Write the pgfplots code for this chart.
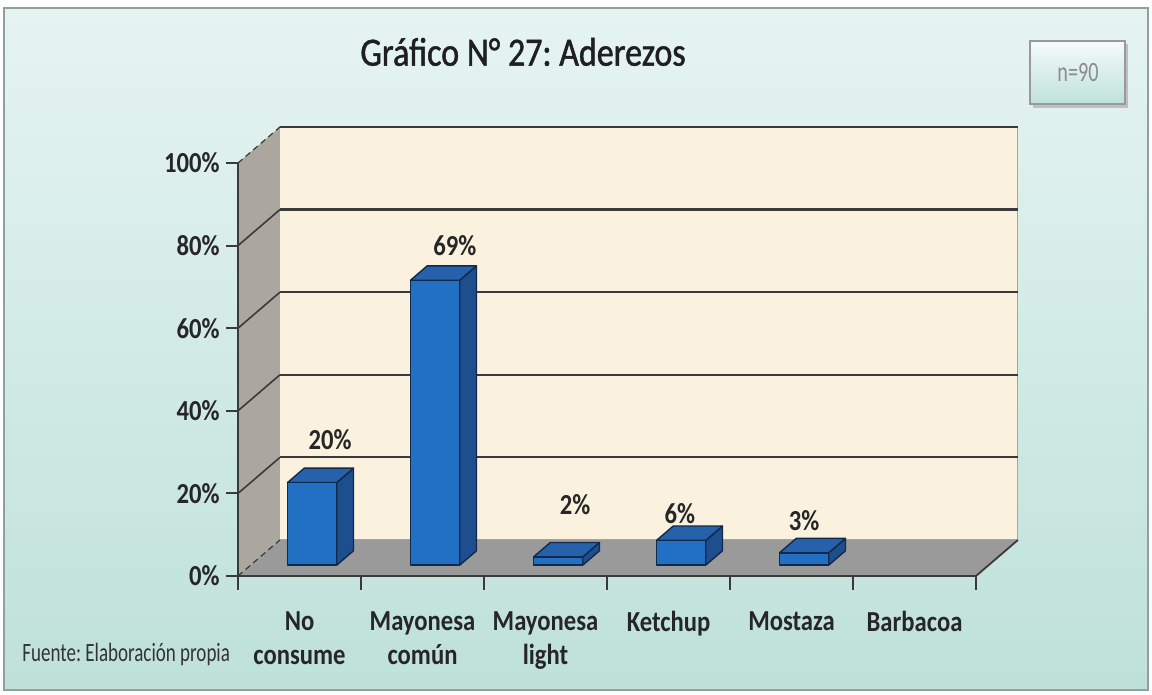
\documentclass[border=0pt]{standalone}
\usepackage{pgfplots}
\pgfplotsset{compat=1.18}
\usepackage{graphicx}
\usepackage{fontspec}
\setmainfont{Carlito}[FakeStretch=0.85]
\newfontfamily\titlefont{Carlito}[FakeStretch=0.85, FakeBold=1.2]
\newfontfamily\narrowfont{Carlito}[FakeStretch=0.72]
\frenchspacing
\definecolor{bgtop}{HTML}{E6F4F1}
\definecolor{bgbot}{HTML}{BEE1D9}
\definecolor{backwall}{HTML}{FAF2DF}
\definecolor{sidewall}{HTML}{ABA79F}
\definecolor{floorc}{HTML}{9A9A9A}
\definecolor{cfront}{HTML}{2270C4}
\definecolor{ctop}{HTML}{2662AC}
\definecolor{cside}{HTML}{1D4E8E}
\definecolor{baredge}{HTML}{12294A}
\definecolor{gridc}{HTML}{3A3A3A}
\definecolor{framec}{HTML}{8FA09D}
\tikzset{
  fsty/.style={fill=cfront, draw=baredge, line width=0.7pt, mark=none, line join=round},
  tsty/.style={fill=ctop, draw=baredge, line width=0.7pt, mark=none, line join=round},
  ssty/.style={fill=cside, draw=baredge, line width=0.7pt, mark=none, line join=round},
}
% 3D bar: #1 = category index, #2 = value (%)
\newcommand\tdbar[2]{%
  \pgfmathsetmacro\xa{#1+0.3+0.1023}%
  \pgfmathsetmacro\xb{#1+0.7+0.1023}%
  \pgfmathsetmacro\xc{#1+0.3+0.2387}%
  \pgfmathsetmacro\xd{#1+0.7+0.2387}%
  \pgfmathsetmacro\ya{2.616}%
  \pgfmathsetmacro\yb{#2+2.616}%
  \pgfmathsetmacro\yc{6.104}%
  \pgfmathsetmacro\yd{#2+6.104}%
  \edef\tmp{%
    \noexpand\addplot[ssty] coordinates {(\xb,\ya) (\xd,\yc) (\xd,\yd) (\xb,\yb)} --cycle;
    \noexpand\addplot[tsty] coordinates {(\xa,\yb) (\xb,\yb) (\xd,\yd) (\xc,\yd)} --cycle;
    \noexpand\addplot[fsty] coordinates {(\xa,\ya) (\xb,\ya) (\xb,\yb) (\xa,\yb)} --cycle;
  }\tmp}
\begin{document}
\frenchspacing
\begin{tikzpicture}
\begin{axis}[
  x=61.5pt, y=2.065pt,
  xmin=-1.935, xmax=7.431, ymin=-28.81, ymax=139.47,
  axis x line=middle, axis y line=middle,
  axis line style={draw=none},
  axis on top=true,
  hide obscured x ticks=false, hide obscured y ticks=false,
  xtick={0.5,1.5,2.5,3.5,4.5,5.5},
  xticklabels={{No\\consume},{Mayonesa\\común},{Mayonesa\\light},Ketchup,Mostaza,Barbacoa},
  ytick={0,20,40,60,80,100},
  yticklabels={0\%,20\%,40\%,60\%,80\%,100\%},
  major tick length=0pt, tick style={draw=none},
  xticklabel style={anchor=north, align=center, inner sep=0pt, yshift=-17.5pt,
     font=\fontsize{14.5}{17}\selectfont\bfseries, text=black!85},
  yticklabel style={anchor=east, inner sep=0pt, xshift=-9pt,
     font=\fontsize{14.5}{17}\selectfont\bfseries, text=black!85},
  /pgf/number format/assume math mode=true,
  clip=false, unbounded coords=jump,
]
% chart area background
\draw[framec, line width=1pt, top color=bgtop, bottom color=bgbot]
  (axis cs:-1.902,137.5) rectangle (axis cs:7.398,-27.6);
% side wall, back wall, floor
\addplot[fill=sidewall, draw=none, mark=none] coordinates {(0,0) (0,100) (0.341,108.72) (0.341,8.72)} --cycle;
\addplot[fill=backwall, draw=gray!70, line width=0.5pt, mark=none] coordinates {(0.341,8.72) (6.341,8.72) (6.341,108.72) (0.341,108.72)} --cycle;
\addplot[fill=floorc, draw=none, mark=none] coordinates {(0,0) (6,0) (6.341,8.72) (0.341,8.72)} --cycle;
% gridlines on back wall
\addplot[gridc, line width=1.1pt, mark=none] coordinates {
  (0.341,28.72) (6.341,28.72) (nan,nan)
  (0.341,48.72) (6.341,48.72) (nan,nan)
  (0.341,68.72) (6.341,68.72) (nan,nan)
  (0.341,88.72) (6.341,88.72) (nan,nan)
  (0.341,108.72) (6.341,108.72)};
% gridlines on side wall
\addplot[gridc, line width=0.8pt, mark=none] coordinates {
  (0,20) (0.341,28.72) (nan,nan)
  (0,40) (0.341,48.72) (nan,nan)
  (0,60) (0.341,68.72) (nan,nan)
  (0,80) (0.341,88.72)};
\addplot[gridc, line width=0.6pt, mark=none, densely dashed] coordinates {
  (0,0) (0.341,8.72) (nan,nan)
  (0,100) (0.341,108.72)};
% floor right edge
\addplot[gridc, line width=0.9pt, mark=none] coordinates {(6,0) (6.341,8.72)};
% bars
\tdbar{0}{20}
\tdbar{1}{69}
\tdbar{2}{2}
\tdbar{3}{6}
\tdbar{4}{3}
% front axes and ticks
\addplot[gridc, line width=1pt, mark=none] coordinates {(0,0) (6,0) (nan,nan) (0,0) (0,100)};
\addplot[gridc, line width=1pt, mark=none] coordinates {
  (0,0) (0,-3.4) (nan,nan) (1,0) (1,-3.4) (nan,nan) (2,0) (2,-3.4) (nan,nan)
  (3,0) (3,-3.4) (nan,nan) (4,0) (4,-3.4) (nan,nan) (5,0) (5,-3.4) (nan,nan)
  (6,0) (6,-3.4) (nan,nan)
  (-0.0976,0) (0,0) (nan,nan) (-0.0976,20) (0,20) (nan,nan) (-0.0976,40) (0,40) (nan,nan)
  (-0.0976,60) (0,60) (nan,nan) (-0.0976,80) (0,80) (nan,nan) (-0.0976,100) (0,100)};
% data labels
\addplot[draw=none, mark=none, nodes near coords, point meta=explicit symbolic,
  nodes near coords style={anchor=center, inner sep=0pt, font=\fontsize{14.5}{17}\selectfont\bfseries, text=black!85}]
  coordinates {(0.748,32.9)[20\%] (1.764,80.1)[69\%] (2.740,17.2)[2\%] (3.593,15.0)[6\%] (4.602,13.3)[3\%]};
% title
\node[font=\titlefont\fontsize{20}{24}\selectfont, text=black!88] at (axis cs:2.317,126.9) {Gráfico N° 27: Aderezos};
% n box
\fill[black!25] (axis cs:6.465,128.8) rectangle (axis cs:7.237,113.3);
\draw[gray!80, line width=0.8pt, top color=white!60!bgtop, bottom color=bgbot] (axis cs:6.439,129.5) rectangle (axis cs:7.211,114.3);
\node[font=\narrowfont\fontsize{14}{16}\selectfont, text=black!45] at (axis cs:6.829,122.0) {n=90};
% source
\node[anchor=west, inner sep=0pt, font=\narrowfont\fontsize{13.2}{15}\selectfont, text=black!80] at (axis cs:-1.756,-19.1) {\frenchspacing Fuente: Elaboración propia};
\end{axis}
\end{tikzpicture}
\end{document}
